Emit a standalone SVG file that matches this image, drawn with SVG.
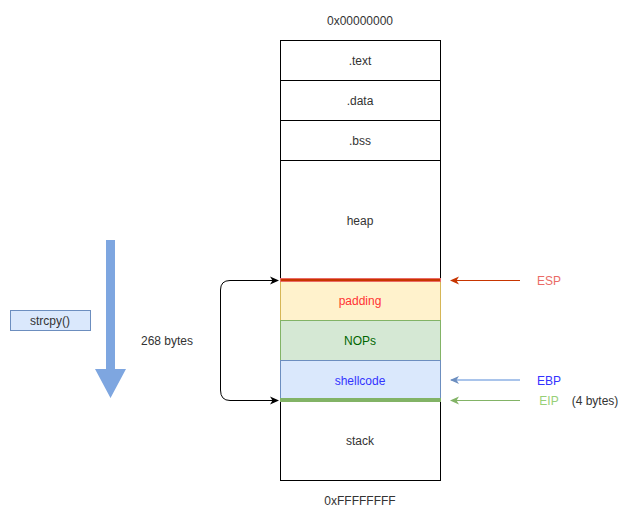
<svg xmlns="http://www.w3.org/2000/svg" width="641" height="521" viewBox="0 0 641 521">
<style>
text{font-family:"Liberation Sans",Arial,sans-serif;font-size:12px;text-anchor:middle;dominant-baseline:central;fill:#333}
.seg{fill:#fff;stroke:#000;stroke-width:1}
</style>
<defs>
<marker id="ab" markerWidth="10" markerHeight="10" refX="8" refY="5" orient="auto-start-reverse" markerUnits="userSpaceOnUse"><path d="M0,1 L9,5 L0,9 L2.5,5 Z" fill="#000"/></marker>
<marker id="ar" markerWidth="10" markerHeight="10" refX="8" refY="5" orient="auto" markerUnits="userSpaceOnUse"><path d="M0,1 L9,5 L0,9 L2.5,5 Z" fill="#C73500"/></marker>
<marker id="abl" markerWidth="10" markerHeight="10" refX="8" refY="5" orient="auto" markerUnits="userSpaceOnUse"><path d="M0,1 L9,5 L0,9 L2.5,5 Z" fill="#6C8EBF"/></marker>
<marker id="ag" markerWidth="10" markerHeight="10" refX="8" refY="5" orient="auto" markerUnits="userSpaceOnUse"><path d="M0,1 L9,5 L0,9 L2.5,5 Z" fill="#82B366"/></marker>
</defs>
<rect width="641" height="521" fill="#fff"/>
<g id="addr-top"><text x="360" y="21">0x00000000</text></g>
<g id="text-seg"><rect class="seg" x="280.5" y="40.5" width="160" height="40"/><text x="360" y="61">.text</text></g>
<g id="data-seg"><rect class="seg" x="280.5" y="80.5" width="160" height="40"/><text x="360" y="101">.data</text></g>
<g id="bss-seg"><rect class="seg" x="280.5" y="120.5" width="160" height="40"/><text x="360" y="141">.bss</text></g>
<g id="heap"><rect class="seg" x="280.5" y="160.5" width="160" height="120"/><text x="360" y="221">heap</text></g>
<g id="padding"><rect x="280.5" y="280.5" width="160" height="40" fill="#fff2cc" stroke="#d6b656"/><text x="360" y="301" style="fill:#FF3333">padding</text></g>
<g id="nops"><rect x="280.5" y="320.5" width="160" height="40" fill="#d5e8d4" stroke="#82b366"/><text x="360" y="341" style="fill:#006600">NOPs</text></g>
<g id="shellcode"><rect x="280.5" y="360.5" width="160" height="40" fill="#dae8fc" stroke="#6c8ebf"/><text x="360" y="381" style="fill:#3333FF">shellcode</text></g>
<g id="stack"><rect class="seg" x="280.5" y="400.5" width="160" height="80"/><text x="360" y="441">stack</text></g>
<g id="esp-bar"><rect x="280.5" y="278.5" width="160" height="3" fill="#C73500" stroke="#EA6B66" stroke-width="1"/></g>
<g id="eip-bar"><rect x="280.5" y="398.5" width="160" height="3" fill="#82B366" stroke="#82B366" stroke-width="1"/></g>
<g id="addr-bottom"><text x="360" y="501">0xFFFFFFFF</text></g>
<g id="strcpy"><rect x="10.5" y="310.5" width="80" height="20" fill="#dae8fc" stroke="#6c8ebf"/><text x="50" y="321">strcpy()</text></g>
<g id="big-arrow"><path d="M106,240 L115,240 L115,369 L126,369 L110.5,398 L95,369 L106,369 Z" fill="#7EA6E0"/></g>
<g id="size-label"><text x="167" y="341">268 bytes</text></g>
<g id="esp-label"><text x="549" y="281" style="fill:#EA6B66">ESP</text></g>
<g id="ebp-label"><text x="549" y="381" style="fill:#3333FF">EBP</text></g>
<g id="eip-label"><text x="549" y="401" style="fill:#97D077">EIP</text><text x="595" y="401">(4 bytes)</text></g>
<g id="connectors" fill="none">
<path d="M278,280.5 L230,280.5 Q220.5,280.5 220.5,290 L220.5,390 Q220.5,400.5 230,400.5 L278,400.5" stroke="#000" stroke-width="1" marker-start="url(#ab)" marker-end="url(#ab)"/>
<path d="M520,280.5 L451,280.5" stroke="#C73500" stroke-width="1" marker-end="url(#ar)"/>
<path d="M520,380 L451,380" stroke="#A9C4EB" stroke-width="2" marker-end="url(#abl)"/>
<path d="M520,400.5 L451,400.5" stroke="#82B366" stroke-width="1" marker-end="url(#ag)"/>
</g>
</svg>
